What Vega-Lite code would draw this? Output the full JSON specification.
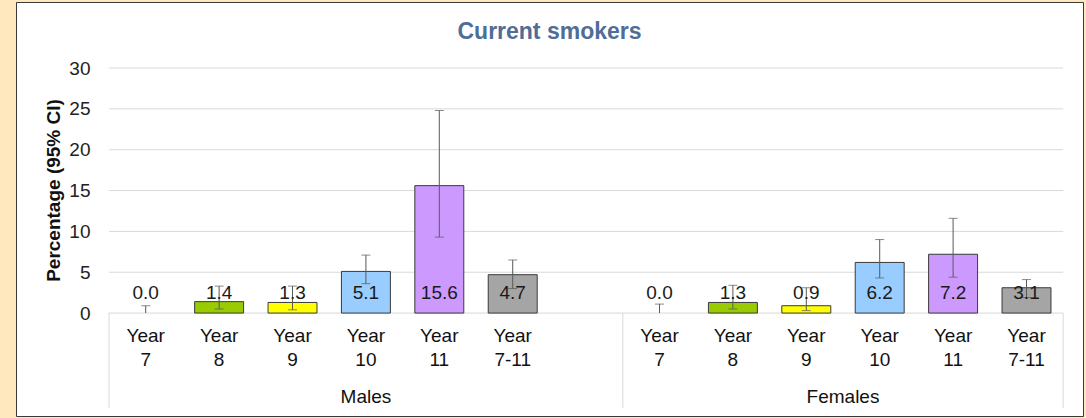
{
  "$schema": "https://vega.github.io/schema/vega-lite/v6.json",
  "width": 1067,
  "height": 414,
  "autosize": {"type": "none"},
  "padding": {"left": 16, "top": 2, "right": 3, "bottom": 2},
  "background": "#FFE8BE",
  "config": {
    "view": {"fill": "#FFFFFF", "stroke": "#3A3A3A", "strokeWidth": 1},
    "font": "Liberation Sans"
  },
  "title": {
    "text": "Current smokers",
    "fontSize": 23,
    "fontWeight": "bold",
    "color": "#4F6D97",
    "offset": -60,
    "baseline": "alphabetic",
    "anchor": "middle",
    "frame": "group"
  },
  "datasets": {
    "main": [
      {"sex": "Males", "cat": "M7", "year": "7", "value": 0.0, "lo": 0.0, "hi": 0.9},
      {"sex": "Males", "cat": "M8", "year": "8", "value": 1.4, "lo": 0.5, "hi": 3.3},
      {"sex": "Males", "cat": "M9", "year": "9", "value": 1.3, "lo": 0.4, "hi": 3.3},
      {"sex": "Males", "cat": "M10", "year": "10", "value": 5.1, "lo": 3.6, "hi": 7.1},
      {"sex": "Males", "cat": "M11", "year": "11", "value": 15.6, "lo": 9.3, "hi": 24.8},
      {"sex": "Males", "cat": "M7-11", "year": "7-11", "value": 4.7, "lo": 3.0, "hi": 6.5},
      {"sex": "Females", "cat": "F7", "year": "7", "value": 0.0, "lo": 0.0, "hi": 1.1},
      {"sex": "Females", "cat": "F8", "year": "8", "value": 1.3, "lo": 0.5, "hi": 3.4},
      {"sex": "Females", "cat": "F9", "year": "9", "value": 0.9, "lo": 0.3, "hi": 3.1},
      {"sex": "Females", "cat": "F10", "year": "10", "value": 6.2, "lo": 4.3, "hi": 9.0},
      {"sex": "Females", "cat": "F11", "year": "11", "value": 7.2, "lo": 4.4, "hi": 11.6},
      {"sex": "Females", "cat": "F7-11", "year": "7-11", "value": 3.1, "lo": 1.9, "hi": 4.1}
    ],
    "grid": [{"v": 0}, {"v": 5}, {"v": 10}, {"v": 15}, {"v": 20}, {"v": 25}, {"v": 30}],
    "groupStarts": [{"cat": "M7"}, {"cat": "F7"}]
  },
  "layer": [
    {
      "data": {"name": "grid"},
      "mark": {"type": "rule", "color": "#D9D9D9", "strokeWidth": 1},
      "encoding": {
        "y": {
          "field": "v",
          "type": "quantitative",
          "scale": {"domain": [-12.6, 38.08], "nice": false, "zero": false},
          "axis": {
            "orient": "left",
            "offset": -93,
            "values": [0, 5, 10, 15, 20, 25, 30],
            "domain": false,
            "ticks": false,
            "grid": false,
            "labelFontSize": 19,
            "labelPadding": 19,
            "labelColor": "#222222",
            "title": "Percentage (95% CI)",
            "titleFontSize": 19,
            "titleFontWeight": "bold",
            "titleColor": "#111111",
            "titleX": -50,
            "titleY": 188,
            "titleBaseline": "alphabetic",
            "titleAngle": -90,
            "titleAlign": "center"
          }
        },
        "x": {"datum": "M7", "type": "nominal", "bandPosition": 0},
        "x2": {"datum": "F7-11", "bandPosition": 1}
      }
    },
    {
      "data": {"name": "main"},
      "transform": [{"filter": "datum.value > 0"}],
      "mark": {"type": "bar", "stroke": "#3A3A3A", "strokeWidth": 1, "width": {"band": 0.667}},
      "encoding": {
        "x": {
          "field": "cat",
          "type": "nominal",
          "sort": null,
          "scale": {
            "domain": ["M7", "M8", "M9", "M10", "M11", "M7-11", "Mgap", "F7", "F8", "F9", "F10", "F11", "F7-11"],
            "paddingInner": 0,
            "paddingOuter": 0.7685,
            "align": 0.8245
          },
          "axis": {
            "orient": "bottom",
            "offset": -103,
            "title": null,
            "domain": false,
            "ticks": false,
            "grid": false,
            "labelAngle": 0,
            "labelAlign": "center",
            "labelExpr": "datum.value == 'Mgap' ? '' : ['Year', slice(datum.value, 1)]",
            "labelFontSize": 19,
            "labelLineHeight": 24,
            "labelPadding": 13,
            "labelColor": "#111111",
            "labelBaseline": "top",
            "labelOverlap": false
          }
        },
        "y": {"field": "value", "type": "quantitative"},
        "fill": {
          "field": "year",
          "type": "nominal",
          "scale": {
            "domain": ["7", "8", "9", "10", "11", "7-11"],
            "range": ["#FFFFFF", "#99CC00", "#FFFF00", "#99CCFF", "#CC99FF", "#A5A5A5"]
          },
          "legend": null
        }
      }
    },
    {
      "data": {"name": "main"},
      "mark": {"type": "rule", "color": "#595959", "strokeWidth": 1},
      "encoding": {
        "x": {"field": "cat", "type": "nominal"},
        "y": {"field": "lo", "type": "quantitative"},
        "y2": {"field": "hi"}
      }
    },
    {
      "data": {"name": "main"},
      "mark": {"type": "tick", "color": "#595959", "size": 9, "thickness": 1},
      "encoding": {
        "x": {"field": "cat", "type": "nominal"},
        "y": {"field": "hi", "type": "quantitative"}
      }
    },
    {
      "data": {"name": "main"},
      "transform": [{"filter": "datum.lo > 0"}],
      "mark": {"type": "tick", "color": "#595959", "size": 9, "thickness": 1},
      "encoding": {
        "x": {"field": "cat", "type": "nominal"},
        "y": {"field": "lo", "type": "quantitative"}
      }
    },
    {
      "data": {"name": "main"},
      "mark": {"type": "text", "fontSize": 19, "color": "#1A1A1A", "baseline": "middle", "dy": -20},
      "encoding": {
        "x": {"field": "cat", "type": "nominal"},
        "y": {"datum": 0, "type": "quantitative"},
        "text": {"field": "value", "type": "quantitative", "format": ".1f"}
      }
    },
    {
      "data": {"name": "groupStarts"},
      "mark": {"type": "rule", "color": "#D9D9D9", "strokeWidth": 1},
      "encoding": {
        "x": {"field": "cat", "type": "nominal", "bandPosition": 0},
        "y": {"datum": 0, "type": "quantitative"},
        "y2": {"datum": -11.6}
      }
    },
    {
      "data": {"values": [{"cat": "F7-11"}]},
      "mark": {"type": "rule", "color": "#D9D9D9", "strokeWidth": 1},
      "encoding": {
        "x": {"field": "cat", "type": "nominal", "bandPosition": 1},
        "y": {"datum": 0, "type": "quantitative"},
        "y2": {"datum": -11.6}
      }
    },
    {
      "data": {"values": [{"g": "Males"}]},
      "mark": {"type": "text", "fontSize": 19, "color": "#111111", "baseline": "middle"},
      "encoding": {
        "x": {"datum": "M10", "type": "nominal", "bandPosition": 0.5},
        "y": {"datum": -10.3, "type": "quantitative"},
        "text": {"field": "g", "type": "nominal"}
      }
    },
    {
      "data": {"values": [{"g": "Females"}]},
      "mark": {"type": "text", "fontSize": 19, "color": "#111111", "baseline": "middle"},
      "encoding": {
        "x": {"datum": "F10", "type": "nominal", "bandPosition": 0},
        "y": {"datum": -10.3, "type": "quantitative"},
        "text": {"field": "g", "type": "nominal"}
      }
    }
  ]
}
